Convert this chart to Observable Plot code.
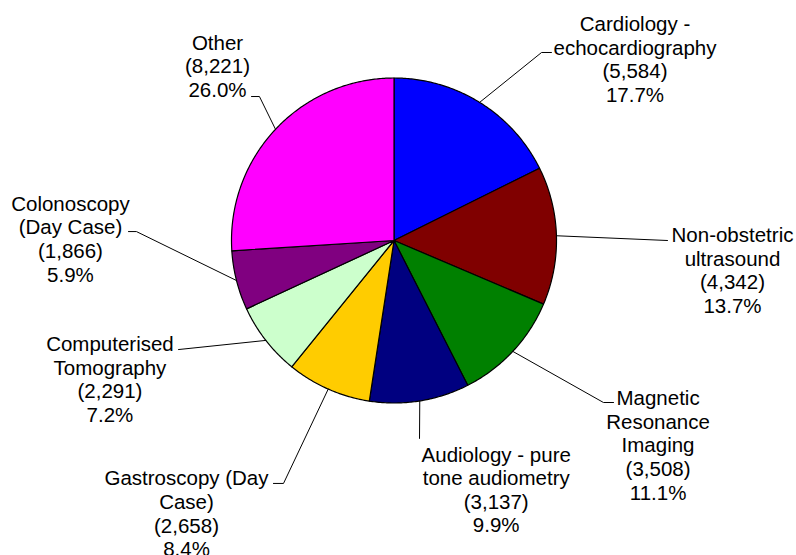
<!DOCTYPE html>
<html>
<head>
<meta charset="utf-8">
<script src="https://cdn.jsdelivr.net/npm/d3@7"></script>
<script src="https://cdn.jsdelivr.net/npm/@observablehq/plot@0.6"></script>
<style>
  html, body { margin: 0; padding: 0; background: #fff; }
  #chart svg { display: block; background: #fff; }
</style>
</head>
<body>
<div id="chart"></div>
<script>
// ---- data ----
const categories = [
  "Cardiology -\nechocardiography",
  "Non-obstetric\nultrasound",
  "Magnetic\nResonance\nImaging",
  "Audiology - pure\ntone audiometry",
  "Gastroscopy (Day\nCase)",
  "Computerised\nTomography",
  "Colonoscopy\n(Day Case)",
  "Other"
];
const values = [5584, 4342, 3508, 3137, 2658, 2291, 1866, 8221];
const colors = ["#0000FF", "#800000", "#008000", "#000080", "#FFCC00", "#CCFFCC", "#800080", "#FF00FF"];

// ---- label layout, in units of the pie radius (centre = 0,0) ----
const labelCenters = [
  [1.483, 1.118], [2.083, -0.182], [1.625, -1.258], [0.629, -1.532],
  [-1.277, -1.678], [-1.748, -0.851], [-1.991, 0.012], [-1.086, 1.075]
];
const leaderBends = [
  [[0.908, 1.157], [0.969, 1.157]],
  [[1.683, 0.0]],
  [[1.289, -0.997], [1.351, -0.997]],
  [[0.157, -1.218]],
  [[-0.680, -1.495], [-0.742, -1.495]],
  [[-1.326, -0.671]],
  [[-1.585, 0.055], [-1.634, 0.055]],
  [[-0.828, 0.886], [-0.877, 0.886]]
];

// ---- build geometry ----
const total = d3.sum(values);
const fmt = d3.format(",");
const arcs = d3.pie().sort(null).value(d => d)(values); // angles clockwise from 12 o'clock

const slicePts = [];
const leaderPts = [];
const labels = [];
arcs.forEach((a, i) => {
  const name = categories[i];
  slicePts.push({name, x: 0, y: 0, color: colors[i]});
  const n = Math.max(2, Math.ceil((a.endAngle - a.startAngle) / 0.01));
  for (let k = 0; k <= n; k++) {
    const t = a.startAngle + (a.endAngle - a.startAngle) * k / n;
    slicePts.push({name, x: Math.sin(t), y: Math.cos(t), color: colors[i]});
  }
  const mid = (a.startAngle + a.endAngle) / 2;
  leaderPts.push({name, x: Math.sin(mid), y: Math.cos(mid)});
  leaderBends[i].forEach(([x, y]) => leaderPts.push({name, x, y}));
  const pct = (values[i] / total * 100).toFixed(1);
  labels.push({
    name,
    x: labelCenters[i][0],
    y: labelCenters[i][1],
    text: `${name}\n(${fmt(values[i])})\n${pct}%`
  });
});

const R = 162.5;
const chart = Plot.plot({
  width: 796,
  height: 555,
  margin: 0,
  x: {domain: [-393.5 / R, 402.5 / R], axis: null},
  y: {domain: [-315 / R, 240 / R], axis: null},
  color: {type: "identity"},
  style: {background: "#fff", fontFamily: "'Liberation Sans', Arial, sans-serif"},
  marks: [
    Plot.line(slicePts, {
      x: "x", y: "y", z: "name",
      fill: "color", stroke: "#000", strokeWidth: 1.2,
      curve: "linear-closed", strokeLinejoin: "round"
    }),
    Plot.line(leaderPts, {
      x: "x", y: "y", z: "name",
      stroke: "#000", strokeWidth: 1
    }),
    Plot.text(labels, {
      x: "x", y: "y", text: "text",
      fontSize: 20.5, lineHeight: 1.152,
      fill: "#000", textAnchor: "middle",
      fontFamily: "'Liberation Sans', Arial, sans-serif"
    })
  ]
});
document.getElementById("chart").appendChild(chart);
</script>
</body>
</html>
